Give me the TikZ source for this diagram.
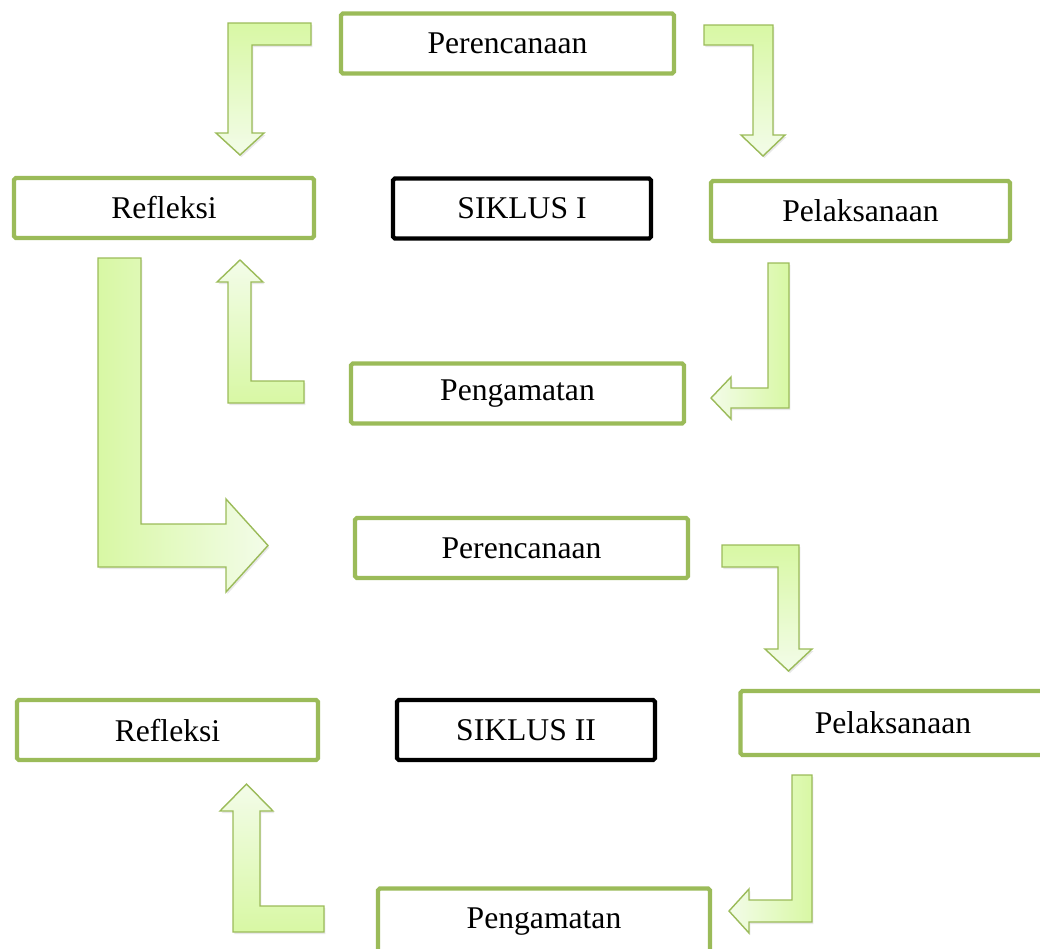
\documentclass[tikz,border=0pt]{standalone}
\usepackage{fontspec}
\setmainfont{Liberation Serif}
\usetikzlibrary{shadows}
\definecolor{olivegreen}{HTML}{9BBB59}
\definecolor{arrowdark}{HTML}{D8F8A4}
\definecolor{arrowlight}{HTML}{F3FCE9}

\begin{document}
\begin{tikzpicture}
[
x=0.02cm, y=-0.02cm,
stagenode/.style={rectangle, rounded corners=1pt, draw=olivegreen, line width=2.4pt, fill=white, inner sep=0pt, minimum height=1.2cm, font=\fontsize{18}{20}\selectfont},
cyclenode/.style={stagenode, draw=black},
bentarrow/.style={draw=olivegreen, line width=0.8pt, line join=miter, drop shadow={opacity=0.18, shadow xshift=0.8pt, shadow yshift=-1.2pt}},
]
\path[use as bounding box, clip] (0,0) rectangle (1040,948);
%draw the first cycle
\node[stagenode, minimum width=6.66cm] (per1) at (507.5,43.5) {Perencanaan};
\node[stagenode, minimum width=6.0cm] (ref1) at (164,208) {Refleksi};
\node[cyclenode, minimum width=5.16cm] (sik1) at (522,208.5) {SIKLUS I};
\node[stagenode, minimum width=5.98cm] (pel1) at (860.5,211) {Pelaksanaan};
\node[stagenode, minimum width=6.66cm] (pen1) at (517.5,393.5) {Pengamatan};
%draw the second cycle
\node[stagenode, minimum width=6.66cm] (per2) at (521.5,548) {Perencanaan};
\node[stagenode, minimum width=6.02cm] (ref2) at (167.5,730) {Refleksi};
\node[cyclenode, minimum width=5.16cm] (sik2) at (526,730) {SIKLUS II};
\node[stagenode, minimum width=6.1cm, minimum height=1.28cm] (pel2) at (893,723) {Pelaksanaan};
\node[stagenode, minimum width=6.64cm, minimum height=1.34cm] (pen2) at (544,922) {Pengamatan};
%arrows of the first cycle
\draw[bentarrow, top color=arrowdark, bottom color=arrowlight] (311,23) -- (228,23) -- (228,133) -- (216,133) -- (240,155) -- (264,133) -- (252,133) -- (252,45) -- (311,45) -- cycle;
\draw[bentarrow, top color=arrowdark, bottom color=arrowlight] (704,25) -- (773,25) -- (773,135) -- (785,135) -- (763,156) -- (741,135) -- (753,135) -- (753,45) -- (704,45) -- cycle;
\draw[bentarrow, left color=arrowlight, right color=arrowdark] (768,263) -- (789,263) -- (789,408) -- (731,408) -- (731,419) -- (711,398) -- (731,377) -- (731,388) -- (768,388) -- cycle;
\draw[bentarrow, top color=arrowlight, bottom color=arrowdark] (304,381) -- (251,381) -- (251,282) -- (263,282) -- (240,260) -- (217,282) -- (228,282) -- (228,403) -- (304,403) -- cycle;
%arrow to the second cycle
\draw[bentarrow, left color=arrowdark, right color=arrowlight] (98,258) -- (141,258) -- (141,524) -- (226,524) -- (226,499) -- (268,545.5) -- (226,592) -- (226,567) -- (98,567) -- cycle;
%arrows of the second cycle
\draw[bentarrow, top color=arrowdark, bottom color=arrowlight] (722,545) -- (799,545) -- (799,649) -- (812,649) -- (788.5,671) -- (765,649) -- (778,649) -- (778,567) -- (722,567) -- cycle;
\draw[bentarrow, left color=arrowlight, right color=arrowdark] (792,775) -- (812,775) -- (812,922) -- (749,922) -- (749,933) -- (729,911) -- (749,889) -- (749,900) -- (792,900) -- cycle;
\draw[bentarrow, top color=arrowlight, bottom color=arrowdark] (324,906) -- (260,906) -- (260,811) -- (273,811) -- (246.5,784) -- (220,811) -- (233,811) -- (233,932) -- (324,932) -- cycle;
\end{tikzpicture}
\end{document}
